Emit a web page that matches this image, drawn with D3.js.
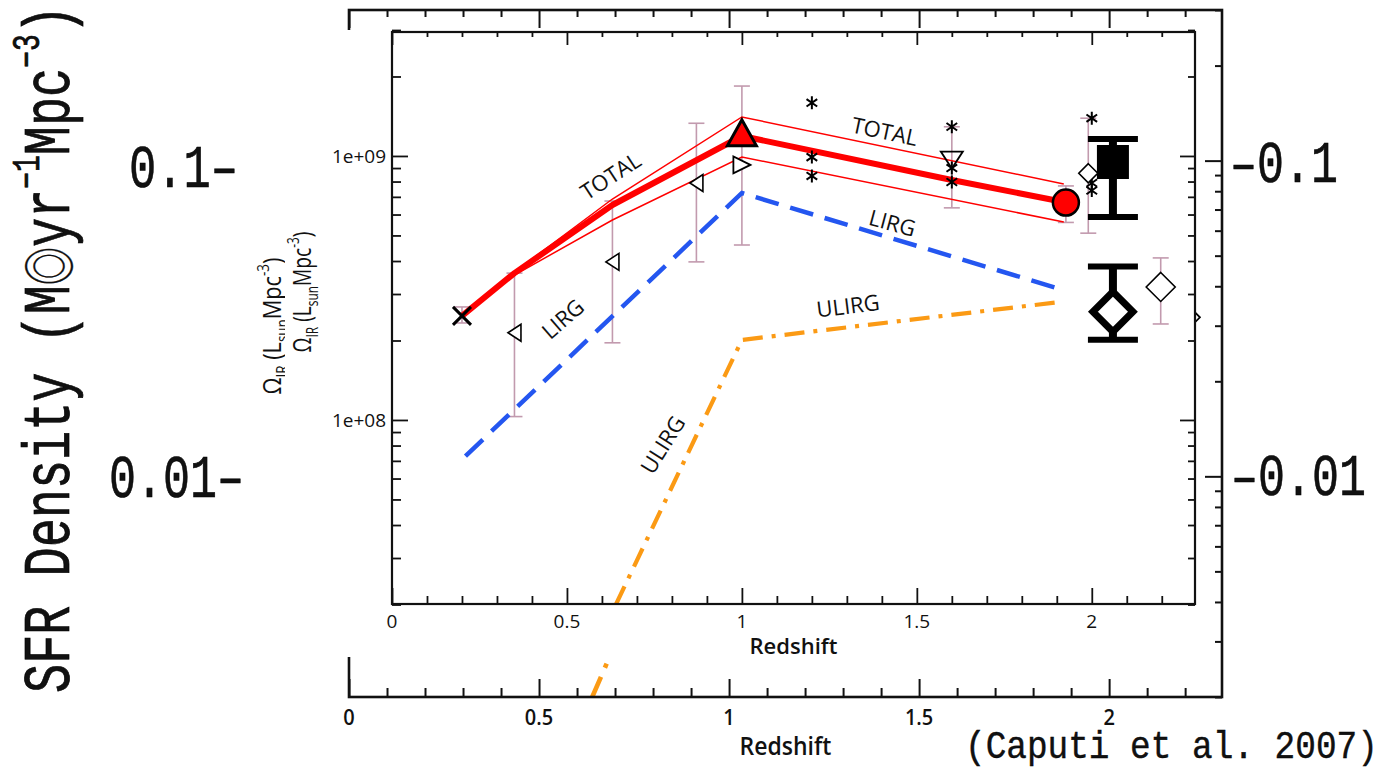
<!DOCTYPE html>
<html>
<head>
<meta charset="utf-8">
<title>SFR density vs redshift</title>
<style>
  body { margin: 0; background: #fff; }
  svg { display: block; }
  text { font-family: "Open Sans", "DejaVu Sans", sans-serif; fill: #111; }
  .mono { font-family: "Liberation Mono", "Noto Sans CJK JP", monospace; stroke: #000; }
</style>
</head>
<body>
<script src="https://cdnjs.cloudflare.com/ajax/libs/d3/7.8.5/d3.min.js"></script>
<script>
// ---- data (redshift z, IR luminosity density in Lsun Mpc^-3) ----
var totalZ   = [0.2, 0.35, 0.63, 1.0, 1.6, 1.92];
var totalMid = [2.48e8, 3.60e8, 6.52e8, 1.19e9, 8.11e8, 6.69e8];
var totalBandZ = [0.2, 0.35, 0.63, 1.0, 1.92];
var totalHi  = [2.48e8, 3.63e8, 6.87e8, 1.405e9, 7.83e8];
var totalLo  = [2.48e8, 3.54e8, 5.72e8, 9.91e8, 5.62e8];
var lirgZ    = [0.21, 1.0, 1.91];
var lirgVal  = [7.3e7, 7.24e8, 3.13e8];
var ulirgZ   = [0.64, 1.0, 1.91];
var ulirgVal = [2.0e7, 2.01e8, 2.8e8];

// open left triangles with error bars
var triLZ  = [0.35, 0.63, 0.87];
var triLV  = [2.14e8, 3.97e8, 7.9e8];
var triLHi = [3.6e8, 6.75e8, 1.33e9];
var triLLo = [1.03e8, 1.96e8, 3.97e8];
// cross at low z
var crossZ = [0.2], crossV = [2.48e8], crossHi = [2.68e8], crossLo = [2.33e8];
// z = 1 points
var triRZ = [1.0], triRV = [9.25e8], triRHi = [1.84e9], triRLo = [4.6e8];
var redTriZ = [1.0], redTriV = [1.21e9];
// asterisks
var astZ = [1.2, 1.2, 1.2, 1.6, 1.6, 1.6, 2.0, 2.0, 2.0];
var astV = [1.59e9, 9.9e8, 8.4e8, 1.29e9, 9.0e8, 7.97e8, 1.39e9, 7.9e8, 7.4e8];
// z = 1.6 down triangle, z = 2 small diamond
var triDZ = [1.6], triDV = [9.65e8], triDHi = [1.29e9], triDLo = [6.36e8];
var smDiaZ = [1.99], smDiaV = [8.6e8], smDiaHi = [1.39e9], smDiaLo = [5.1e8];
// red circle
var circZ = [1.926], circV = [6.66e8], circHi = [7.7e8], circLo = [5.6e8];
// open diamond at high z
var diaZ = [2.197], diaV = [3.19e8], diaHi = [4.11e8], diaLo = [2.31e8];

// overlay points in SFR units (Msun yr^-1 Mpc^-3)
var sfrZ = [2.01, 2.01];
var sfrV = [0.099, 0.0332];
var sfrHi = [0.117, 0.0462];
var sfrLo = [0.0663, 0.0271];
var sfrShape = ["square", "diamond"];

// tick labels
var xTickLabels = ["0", "0.5", "1", "1.5", "2"];
var xTickVals = [0, 0.5, 1, 1.5, 2];
var yTickVals = [1e8, 1e9];
var yTickLabels = ["1e+08", "1e+09"];
var sfrTickVals = [0.1, 0.01];
var sfrLeftLabels = ["0.1\u2013", "0.01\u2013"];
var sfrRightLabels = ["\u20130.1", "\u20130.01"];
var curveLabels = ["TOTAL", "TOTAL", "LIRG", "LIRG", "ULIRG", "ULIRG"];

var W = 1382, H = 770;
var svg = d3.select("body").append("svg").attr("width", W).attr("height", H);

var zip = function (a, b) { return a.map(function (v, i) { return [v, b[i]]; }); };

// ---- marker shapes ----
function triType(dir, w, h) {
  return { draw: function (c, s) {
    var a = w * s / 2, b = h * s / 2;
    if (dir === "L") { c.moveTo(-a, 0); c.lineTo(a, -b); c.lineTo(a, b); }
    if (dir === "R") { c.moveTo(a, 0); c.lineTo(-a, -b); c.lineTo(-a, b); }
    if (dir === "D") { c.moveTo(0, b); c.lineTo(-a, -b); c.lineTo(a, -b); }
    if (dir === "U") { c.moveTo(0, -b * 1.1); c.lineTo(-a, b * 0.9); c.lineTo(a, b * 0.9); }
    c.closePath();
  }};
}
var diamondType = { draw: function (c, s) {
  c.moveTo(0, -s); c.lineTo(s, 0); c.lineTo(0, s); c.lineTo(-s, 0); c.closePath();
}};
var xType = { draw: function (c, s) {
  c.moveTo(-s, -s); c.lineTo(s, s); c.moveTo(s, -s); c.lineTo(-s, s);
}};
var astType = { draw: function (c, s) {
  [90, 35, 145].forEach(function (a) {
    var r = a * Math.PI / 180;
    c.moveTo(Math.cos(r) * s, Math.sin(r) * s);
    c.lineTo(-Math.cos(r) * s, -Math.sin(r) * s);
  });
}};

var pink = "#c29aae";

function errBars(g, x, y, zs, his, los, k) {
  zs.forEach(function (z, i) {
    var cx = x(z);
    g.append("line").attr("x1", cx).attr("x2", cx).attr("y1", y(his[i])).attr("y2", y(los[i]))
      .attr("stroke", pink).attr("stroke-width", 1.6 * k);
    [his[i], los[i]].forEach(function (v) {
      g.append("line").attr("x1", cx - 8 * k).attr("x2", cx + 8 * k).attr("y1", y(v)).attr("y2", y(v))
        .attr("stroke", pink).attr("stroke-width", 1.6 * k);
    });
  });
}

function marks(g, x, y, zs, vs, type, size, fill, sw, k) {
  g.selectAll(null).data(zip(zs, vs)).enter().append("path")
    .attr("transform", function (d) { return "translate(" + x(d[0]) + "," + y(d[1]) + ")"; })
    .attr("d", d3.symbol().type(type).size(size * k))
    .attr("fill", fill).attr("stroke", "#000").attr("stroke-width", sw * k)
    .attr("stroke-linejoin", "miter");
}

// draws every series of the luminosity-density plot with given scales
function drawSeries(g, x, y, k) {
  var line = d3.line().x(function (d) { return x(d[0]); }).y(function (d) { return y(d[1]); });

  errBars(g, x, y, crossZ, crossHi, crossLo, k);
  errBars(g, x, y, triLZ, triLHi, triLLo, k);
  errBars(g, x, y, triRZ, triRHi, triRLo, k);
  errBars(g, x, y, triDZ, triDHi, triDLo, k);
  errBars(g, x, y, smDiaZ, smDiaHi, smDiaLo, k);
  errBars(g, x, y, circZ, circHi, circLo, k);
  errBars(g, x, y, diaZ, diaHi, diaLo, k);

  g.append("path").datum(zip(ulirgZ, ulirgVal)).attr("d", line)
    .attr("fill", "none").attr("stroke", "#fb9a14").attr("stroke-width", 4.2 * k)
    .attr("stroke-dasharray", [20 * k, 9 * k, 4 * k, 9 * k].join(","));
  g.append("path").datum(zip(lirgZ, lirgVal)).attr("d", line)
    .attr("fill", "none").attr("stroke", "#2456f0").attr("stroke-width", 4.5 * k)
    .attr("stroke-dasharray", [24 * k, 12 * k].join(","));
  [totalHi, totalLo].forEach(function (arr) {
    g.append("path").datum(zip(totalBandZ, arr)).attr("d", line)
      .attr("fill", "none").attr("stroke", "#f00").attr("stroke-width", 1.5 * k);
  });
  g.append("path").datum(zip(totalZ, totalMid)).attr("d", line)
    .attr("fill", "none").attr("stroke", "#f00").attr("stroke-width", 6 * k)
    .attr("stroke-linejoin", "round");

  marks(g, x, y, crossZ, crossV, xType, 9, "none", 3, k);
  marks(g, x, y, triLZ, triLV, triType("L", 13, 17), 1, "#fff", 1.6, k);
  marks(g, x, y, triRZ, triRV, triType("R", 17, 17), 1, "#fff", 1.8, k);
  marks(g, x, y, triDZ, triDV, triType("D", 22, 17), 1, "none", 1.8, k);
  marks(g, x, y, astZ, astV, astType, 6.5, "none", 2, k);
  marks(g, x, y, smDiaZ, smDiaV, diamondType, 9.5, "#fff", 1.6, k);
  marks(g, x, y, diaZ, diaV, diamondType, 14.5, "#fff", 1.6, k);

  g.selectAll(null).data(zip(circZ, circV)).enter().append("circle")
    .attr("cx", function (d) { return x(d[0]); }).attr("cy", function (d) { return y(d[1]); })
    .attr("r", 13 * k).attr("fill", "#f00").attr("stroke", "#000").attr("stroke-width", 2.5 * k);
  marks(g, x, y, redTriZ, redTriV, triType("U", 29, 26), 1, "#f00", 3, k);
}

function axisTicks(g, axisFn, scale, vals, size, tr, sw) {
  g.append("g").attr("transform", tr)
    .call(axisFn(scale).tickValues(vals).tickSize(size).tickSizeOuter(0).tickFormat(""))
    .call(function (s) {
      s.select(".domain").remove();
      s.selectAll("line").attr("stroke", "#111").attr("stroke-width", sw);
    });
}

var minorX = d3.range(0, 23).map(function (i) { return i / 10; });
function isMajorX(v) { return Math.abs(v * 2 - Math.round(v * 2)) < 1e-6; }
function isMajorY(v) { return Math.abs(Math.log10(v) - Math.round(Math.log10(v))) < 1e-6; }

// fits a text (anchored at 0) to a given length by scaling along the text
function fit(sel, w) {
  var len = sel.node().getComputedTextLength();
  sel.attr("transform", "scale(" + (w / len).toFixed(4) + ",1)");
  return sel;
}

// ================= background (enlarged) copy of the plot =================
var xo = d3.scaleLinear().domain([0, 2.297]).range([349, 1222]);
var yo = d3.scaleLog().domain([2e7, 3e9]).range([697, 10]);
var ySfr = d3.scaleLog().domain([0.002, 0.3]).range([697, 10]);

var outer = svg.append("g");
outer.append("clipPath").attr("id", "clipO").append("rect")
  .attr("x", 349).attr("y", 10).attr("width", 873).attr("height", 687);
drawSeries(outer.append("g").attr("clip-path", "url(#clipO)"), xo, yo, 1.1);

var oMinorY = yo.ticks().filter(function (v) { return !isMajorY(v); });
axisTicks(outer, d3.axisBottom, xo, minorX.filter(function (v) { return !isMajorX(v); }), 7, "translate(0,10)", 2);
axisTicks(outer, d3.axisBottom, xo, xTickVals, 18, "translate(0,10)", 2);
axisTicks(outer, d3.axisTop, xo, minorX.filter(function (v) { return !isMajorX(v); }), 9, "translate(0,697)", 2);
axisTicks(outer, d3.axisTop, xo, xTickVals, 18, "translate(0,697)", 2);
axisTicks(outer, d3.axisLeft, yo, oMinorY, 7, "translate(1222,0)", 2);
axisTicks(outer, d3.axisLeft, yo, yTickVals, 17, "translate(1222,0)", 2);
outer.append("rect").attr("x", 349).attr("y", 10).attr("width", 873).attr("height", 687)
  .attr("fill", "none").attr("stroke", "#111").attr("stroke-width", 2.6);

outer.selectAll(null).data(xTickVals).enter().append("text")
  .attr("transform", function (d) { return "translate(" + xo(d) + ",725) scale(1,1.1)"; })
  .attr("text-anchor", "middle").attr("font-size", 20).attr("font-weight", 600)
  .text(function (d, i) { return xTickLabels[i]; });
outer.append("text").attr("transform", "translate(" + ((349 + 1222) / 2) + ",755) scale(1,1.1)")
  .attr("text-anchor", "middle").attr("font-size", 23).attr("font-weight", 600).text("Redshift");

function yLabel(g, size, len) {
  var t = g.append("text").attr("text-anchor", "middle").attr("font-size", size);
  t.append("tspan").text("\u03a9");
  t.append("tspan").attr("font-size", size * 0.62).attr("dy", size * 0.28).text("IR");
  t.append("tspan").attr("dy", -size * 0.28).text(" (L");
  t.append("tspan").attr("font-size", size * 0.62).attr("dy", size * 0.28).text("sun");
  t.append("tspan").attr("dy", -size * 0.28).text("Mpc");
  t.append("tspan").attr("font-size", size * 0.62).attr("dy", -size * 0.5).text("-3");
  t.append("tspan").attr("dy", size * 0.5).text(")");
  fit(t, len);
  return t;
}
yLabel(outer.append("g").attr("transform", "translate(281,326) rotate(-90)"), 25, 137);

// ================= foreground plot (pasted on top) =================
svg.append("rect").attr("x", 285).attr("y", 30).attr("width", 911).attr("height", 627).attr("fill", "#fff");

var xi = d3.scaleLinear().domain([0, 2.295]).range([392, 1195]);
var yi = d3.scaleLog().domain([2e7, 3e9]).range([604.5, 30]);
var inner = svg.append("g");
inner.append("clipPath").attr("id", "clipI").append("rect")
  .attr("x", 392).attr("y", 31).attr("width", 803).attr("height", 573);
drawSeries(inner.append("g").attr("clip-path", "url(#clipI)"), xi, yi, 1);

var iMinorY = yi.ticks().filter(function (v) { return !isMajorY(v); });
var minorXi = minorX.filter(function (v) { return !isMajorX(v); });
axisTicks(inner, d3.axisBottom, xi, minorXi, 5, "translate(0,32)", 1.8);
axisTicks(inner, d3.axisBottom, xi, xTickVals, 13, "translate(0,32)", 1.8);
axisTicks(inner, d3.axisTop, xi, minorXi, 8, "translate(0,604)", 1.8);
axisTicks(inner, d3.axisTop, xi, xTickVals, 16, "translate(0,604)", 1.8);
axisTicks(inner, d3.axisRight, yi, iMinorY, 9, "translate(392,0)", 1.8);
axisTicks(inner, d3.axisRight, yi, yTickVals, 16, "translate(392,0)", 1.8);
axisTicks(inner, d3.axisLeft, yi, iMinorY, 7, "translate(1195,0)", 1.8);
axisTicks(inner, d3.axisLeft, yi, yTickVals, 15, "translate(1195,0)", 1.8);
inner.append("rect").attr("x", 392).attr("y", 32).attr("width", 803).attr("height", 572)
  .attr("fill", "none").attr("stroke", "#111").attr("stroke-width", 2.2);

inner.selectAll(null).data(xTickVals).enter().append("text")
  .attr("x", function (d) { return xi(d); }).attr("y", 628)
  .attr("text-anchor", "middle").attr("font-size", 19)
  .text(function (d, i) { return xTickLabels[i]; });
inner.append("text").attr("x", (392 + 1195) / 2).attr("y", 654)
  .attr("text-anchor", "middle").attr("font-size", 22).attr("font-weight", 600).text("Redshift");
inner.selectAll(null).data(yTickVals).enter().append("text")
  .attr("x", 386).attr("y", function (d) { return yi(d) + 7; })
  .attr("text-anchor", "end").attr("font-size", 19)
  .text(function (d, i) { return yTickLabels[i]; });
yLabel(inner.append("g").attr("transform", "translate(311,292) rotate(-90)"), 25, 121);

// curve annotations (layout: redshift, value, angle)
var labelLayout = [[0.623, 8.47e8, -33], [1.409, 1.25e9, 12], [0.486, 2.43e8, -41],
                   [1.431, 5.62e8, 15], [1.303, 2.73e8, -7], [0.771, 8.1e7, -58]];
inner.selectAll(null).data(labelLayout).enter().append("text")
  .attr("transform", function (d) { return "translate(" + xi(d[0]) + "," + yi(d[1]) + ") rotate(" + d[2] + ")"; })
  .attr("text-anchor", "middle").attr("dominant-baseline", "central").attr("font-size", 22)
  .text(function (d, i) { return curveLabels[i]; });

// ================= SFR overlay =================
var over = svg.append("g");
sfrZ.forEach(function (z, i) {
  var cx = xo(z);
  over.append("line").attr("x1", cx).attr("x2", cx).attr("y1", ySfr(sfrHi[i])).attr("y2", ySfr(sfrLo[i]))
    .attr("stroke", "#000").attr("stroke-width", 8);
  [sfrHi[i], sfrLo[i]].forEach(function (v) {
    over.append("line").attr("x1", cx - 25).attr("x2", cx + 25).attr("y1", ySfr(v)).attr("y2", ySfr(v))
      .attr("stroke", "#000").attr("stroke-width", 6);
  });
  if (sfrShape[i] === "square") {
    over.append("rect").attr("x", cx - 16).attr("y", ySfr(sfrV[i]) - 17).attr("width", 32).attr("height", 34)
      .attr("fill", "#000");
  } else {
    over.append("path").attr("transform", "translate(" + cx + "," + ySfr(sfrV[i]) + ")")
      .attr("d", d3.symbol().type(diamondType).size(20))
      .attr("fill", "#fff").attr("stroke", "#000").attr("stroke-width", 7);
  }
});

// big SFR tick labels: [start x, baseline offset, length]
var leftLayout = [[129, 26, 109], [109, 21, 135]];
var rightLayout = [[1230, 21, 108], [1231, 19, 135]];
sfrTickVals.forEach(function (v, i) {
  var l = leftLayout[i], r = rightLayout[i];
  var gl = over.append("g").attr("transform", "translate(" + l[0] + "," + (ySfr(v) + l[1]) + ")");
  fit(gl.append("text").attr("class", "mono").attr("font-size", 61).attr("stroke-width", 0.6)
    .text(sfrLeftLabels[i]), l[2]);
  var gr = over.append("g").attr("transform", "translate(" + r[0] + "," + (ySfr(v) + r[1]) + ")");
  fit(gr.append("text").attr("class", "mono").attr("font-size", 59).attr("stroke-width", 0.6)
    .text(sfrRightLabels[i]), r[2]);
});

// big rotated title
var gt = over.append("g").attr("transform", "translate(69,693) rotate(-90)");
var tt = gt.append("text").attr("class", "mono").attr("font-size", 66).attr("stroke-width", 0.7);
tt.append("tspan").text("SFR Density (M");
tt.append("tspan").attr("font-size", 52).attr("stroke-width", 0.3).text("\u25ce");
tt.append("tspan").text("yr");
tt.append("tspan").attr("font-size", 38).attr("dy", -30).text("\u22121");
tt.append("tspan").attr("dy", 30).text("Mpc");
tt.append("tspan").attr("font-size", 38).attr("dy", -30).text("\u22123");
tt.append("tspan").attr("dy", 30).text(")");
fit(tt, 688);

// citation
var gc = over.append("g").attr("transform", "translate(965,758)");
fit(gc.append("text").attr("class", "mono").attr("font-size", 38).attr("stroke-width", 0.4)
  .text("(Caputi et al. 2007)"), 413);
</script>
</body>
</html>
